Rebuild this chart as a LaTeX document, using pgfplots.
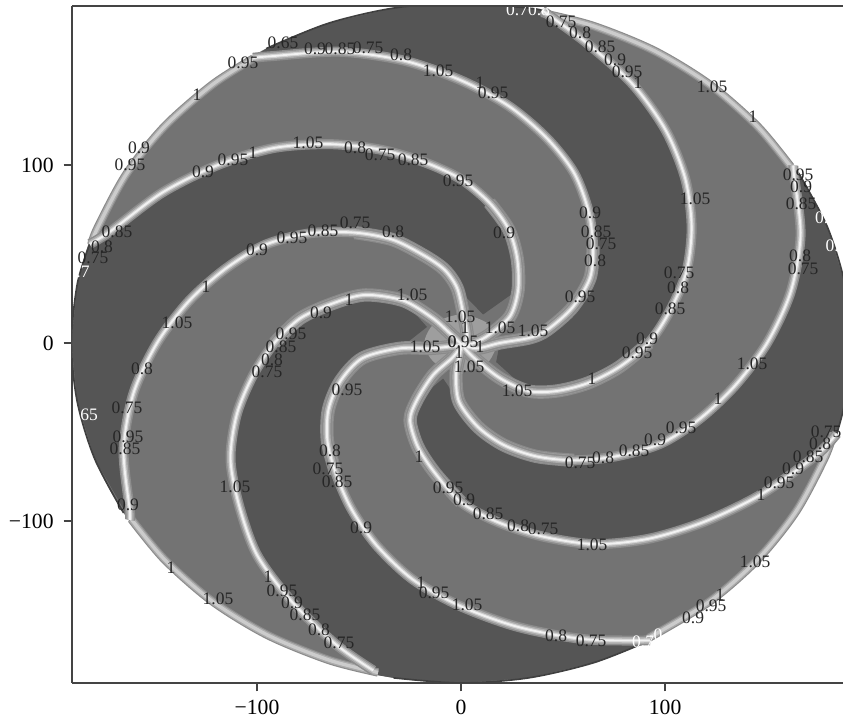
\documentclass[border=0pt]{standalone}
\usepackage{pgfplots}
\usepackage{pgfplotstable}
\usepackage{fontspec}
\setmainfont{Liberation Serif}
\pgfplotsset{compat=1.18}
\definecolor{darkarm}{HTML}{555555}
\definecolor{midarm}{HTML}{737373}
\definecolor{frame}{HTML}{444444}
\definecolor{labtxt}{HTML}{262626}
\tikzset{lab/.style={font=\fontsize{10.5}{12}\selectfont, text=labtxt, inner sep=0pt}}

\pgfplotstableread{
x y
0.5 -1.1
3 4
1 17
-2 31
-8 41
-17.8 48.9
-33.5 58
-52.1 62
-73.5 61.7
-95.7 55.3
-115.2 41.9
-133.4 23.5
-149 0
-160.6 -28.3
-165.4 -60.2
-162.4 -93.8
-162.3 -99.4
}\bandSmallA
\pgfplotstableread{
x y
0.5 -1.1
4 -1
13 4
24 15
28 30
27.5 47.6
23.3 63.9
13.9 78.8
0 92
-17.9 101.5
-39.5 108.6
-64.5 111.7
-91.9 109.5
-119.1 100
-146.4 84.5
-172 62.6
-182 55.6
}\bandA
\pgfplotstableread{
x y
0.5 -1.1
8 -3
19 0
34 3
42.4 7.5
54.5 19.8
63.2 36.5
64.7 54.3
62.4 74.3
55.3 95.7
41.9 115.2
23.5 133
0 147.5
-28 158.6
-59.5 163.6
-93 161.1
-102 160.2
}\bandB
\pgfplotstableread{
x y
0.5 -1.1
6 -8
19 -19.7
33 -27
46.8 -27
62 -22.6
77.3 -13.7
92 0
102.4 18.1
110.5 40.2
113 65.3
109.9 92.2
100.3 119.5
84 145.5
61.4 168.7
39.7 186.8
}\bandC
\pgfplotstableread{
x y
0.5 -1.1
-1 -8
-2.5 -18
-1 -33
8.4 -47.3
20.9 -57.3
36.8 -63.7
55.3 -65.9
75.8 -63.7
97.9 -56.5
117 -42.6
134.4 -23.8
150 0
161.5 28.5
166.4 60.5
163.2 94.3
162.9 99.7
}\bandD
\pgfplotstableread{
x y
0.5 -1.1
-4 -8
-13.7 -18
-21.6 -32
-25 -43.3
-21.2 -58.3
-12.9 -72.9
0 -89.5
17.7 -100.5
39.5 -108.6
65.3 -113
92.3 -109.9
119.5 -100.3
147.2 -85
173.9 -63.3
184.1 -51
}\bandF
\pgfplotstableread{
x y
0.5 -1.1
-14 -3
-30 -3
-48.3 -8.5
-59.2 -21.5
-65 -37.5
-65.5 -55
-61.4 -73.2
-53.8 -93.1
-41.4 -113.7
-23.5 -133
0 -148
28.2 -159.6
60.5 -166.4
92.6 -167.1
}\bandG
\pgfplotstableread{
x y
0.5 -1.1
-6 6
-14 14
-28.3 23.8
-46.8 27
-62 22.6
-78.8 13.9
-91.5 0
-101.9 -18
-109.9 -40
-113 -65.3
-108.8 -91.3
-100 -119.1
-83.5 -144.6
-61.6 -169.1
-43 -184
}\bandH
\pgfplotstableread{
x y
-181.2 55.3
-178.1 64.8
-164.1 94.8
-145.2 121.8
-121.8 145.2
-101.8 159.8
}\rimA
\pgfplotstableread{
x y
39.4 185.4
64.8 178.1
94.8 164.1
121.8 145.2
145.2 121.8
161.6 99
}\rimB
\pgfplotstableread{
x y
182.6 -50.6
178.1 -64.8
164.1 -94.8
145.2 -121.8
121.8 -145.2
91.9 -165.7
}\rimC
\pgfplotstableread{
x y
-40.7 -185.1
-64.8 -178.1
-94.8 -164.1
-121.8 -145.2
-145.2 -121.8
-161.6 -99
}\rimD

\newcommand\AllRims[1]{%
  \addplot[#1] table {\rimA};
  \addplot[#1] table {\rimB};
  \addplot[#1] table {\rimC};
  \addplot[#1] table {\rimD};
}
\newcommand\AllBands[1]{%
  \addplot[#1] table {\bandSmallA};
  \addplot[#1] table {\bandA};
  \addplot[#1] table {\bandB};
  \addplot[#1] table {\bandC};
  \addplot[#1] table {\bandD};
  \addplot[#1] table {\bandF};
  \addplot[#1] table {\bandG};
  \addplot[#1] table {\bandH};
}
\newcommand\InnerBands[1]{%
  \addplot[#1,skip coords between index={8}{40}] table {\bandSmallA};
  \addplot[#1,skip coords between index={8}{40}] table {\bandA};
  \addplot[#1,skip coords between index={8}{40}] table {\bandB};
  \addplot[#1,skip coords between index={8}{40}] table {\bandC};
  \addplot[#1,skip coords between index={8}{40}] table {\bandD};
  \addplot[#1,skip coords between index={8}{40}] table {\bandF};
  \addplot[#1,skip coords between index={8}{40}] table {\bandG};
  \addplot[#1,skip coords between index={8}{40}] table {\bandH};
}
\newcommand\Lb[3]{\node[lab] at (axis cs:{(#1-461)/2.04},{(343-#2)/1.78}) {#3};}
\newcommand\Lw[3]{\node[lab,text=white] at (axis cs:{(#1-461)/2.04},{(343-#2)/1.78}) {#3};}

\begin{document}
\begin{tikzpicture}
\path[use as bounding box] (-43.2pt,-25.2pt) rectangle (462.6pt,409.8pt);
\begin{axis}[
  scale only axis, width=462.6pt, height=406.2pt,
  xmin=-190.7, xmax=187.2, ymin=-191, ymax=189.3,
  axis x line*=bottom, axis y line*=left,
  x axis line style={-}, y axis line style={-},
  axis line style={frame, line width=0.9pt},
  tick style={frame, line width=0.8pt},
  tick align=outside, major tick length=5pt,
  xtick={-100,0,100}, ytick={-100,0,100},
  xticklabels={−100,0,100}, yticklabels={−100,0,100},
  tick label style={font=\fontsize{13}{15}\selectfont, text=black},
  xticklabel style={yshift=-2pt},
  yticklabel style={xshift=-2.5pt},
  no markers,
]
% disc
\addplot[fill=midarm, draw=none, smooth, tension=0.5] coordinates {
(191,0)(188.1,33.2)(179.5,65.3)(165.4,95.5)(146.3,122.8)(122.8,146.3)(95.5,165.4)(65.3,179.5)(33.2,188.1)(0,191)
(-33.2,188.1)(-65.3,179.5)(-95.5,165.4)(-122.8,146.3)(-146.3,122.8)(-165.4,95.5)(-179.5,65.3)(-188.1,33.2)(-191,0)
(-188.1,-33.2)(-179.5,-65.3)(-165.4,-95.5)(-146.3,-122.8)(-122.8,-146.3)(-95.5,-165.4)(-65.3,-179.5)(-33.2,-188.1)(0,-191)
(33.2,-188.1)(65.3,-179.5)(95.5,-165.4)(122.8,-146.3)(146.3,-122.8)(165.4,-95.5)(179.5,-65.3)(188.1,-33.2)(191,0)};
% centre
\addplot[fill=black!38, draw=none, smooth] coordinates {
(18,0)(13,11)(0,16)(-13,11)(-18,0)(-13,-11)(0,-16)(13,-11)(18,0)};
% dark arms
\addplot[fill=darkarm, draw=none] coordinates {
(10.8,16)(28,30)(27.5,47.6)(23.3,63.9)(13.9,78.8)(0,92)(-17.9,101.5)(-39.5,108.6)(-64.5,111.7)(-91.9,109.5)(-119.1,100)(-146.4,84.5)(-172,62.6)(-182,55.6)
(-188.1,33.2)(-191,0)(-188.1,-33.2)(-179.5,-65.3)(-162.3,-99.4)
(-165.4,-60.2)(-160.6,-28.3)(-149,0)(-133.4,23.5)(-115.2,41.9)(-95.7,55.3)(-73.5,61.7)(-52.1,62)(-33.5,58)(-17.8,48.9)(-8,41)(-2,31)};
\addplot[fill=darkarm, draw=none] coordinates {
(17.2,-10.7)(33,-27)(46.8,-27)(62,-22.6)(77.3,-13.7)(92,0)(102.4,18.1)(110.5,40.2)(113,65.3)(109.9,92.2)(100.3,119.5)(84,145.5)(61.4,168.7)(39.7,186.8)
(33.2,188.1)(0,191)(-33.2,188.1)(-65.3,179.5)(-95.5,165.4)(-102,160.2)
(-93,161.1)(-59.5,163.6)(-28,158.6)(0,147.5)(23.5,133)(41.9,115.2)(55.3,95.7)(62.4,74.3)(64.7,54.3)(63.2,36.5)(54.5,19.8)(42.4,7.5)(34,3)(19,0)};
\addplot[fill=darkarm, draw=none] coordinates {
(-8.8,-20)(-1,-33)(8.4,-47.3)(20.9,-57.3)(36.8,-63.7)(55.3,-65.9)(75.8,-63.7)(97.9,-56.5)(117,-42.6)(134.4,-23.8)(150,0)(161.5,28.5)(166.4,60.5)(163.2,94.3)(162.9,99.7)
(165.4,95.5)(179.5,65.3)(188.1,33.2)(191,0)(188.1,-33.2)(184.1,-51)
(173.9,-63.3)(147.2,-85)(119.5,-100.3)(92.3,-109.9)(65.3,-113)(39.5,-108.6)(17.7,-100.5)(0,-89.5)(-12.9,-72.9)(-21.2,-58.3)(-25,-43.3)(-21.6,-32)};
\addplot[fill=darkarm, draw=none] coordinates {
(-16.7,9)(-28.3,23.8)(-46.8,27)(-62,22.6)(-78.8,13.9)(-91.5,0)(-101.9,-18)(-109.9,-40)(-113,-65.3)(-108.8,-91.3)(-100,-119.1)(-83.5,-144.6)(-61.6,-169.1)(-43,-184)(-41.1,-186.6)
(-33.2,-188.1)(0,-191)(33.2,-188.1)(65.3,-179.5)(92.6,-167.1)
(60.5,-166.4)(28.2,-159.6)(0,-148)(-23.5,-133)(-41.4,-113.7)(-53.8,-93.1)(-61.4,-73.2)(-65.5,-55)(-65,-37.5)(-59.2,-21.5)(-48.3,-8.5)(-30,-3)};
% dark rim
\addplot[draw=black!75, line width=1pt, smooth] coordinates {(-182,55.6)(-188.1,33.2)(-191,0)(-188.1,-33.2)(-179.5,-65.3)(-165.4,-95.5)};
\addplot[draw=black!75, line width=1pt, smooth] coordinates {(39.7,186.8)(33.2,188.1)(0,191)(-33.2,188.1)(-65.3,179.5)(-95.5,165.4)};
\addplot[draw=black!75, line width=1pt, smooth] coordinates {(165.4,95.5)(179.5,65.3)(188.1,33.2)(191,0)(188.1,-33.2)(184.1,-51)};
\addplot[draw=black!75, line width=1pt, smooth] coordinates {(-33.2,-188.1)(0,-191)(33.2,-188.1)(65.3,-179.5)(92.6,-167.1)};
% rims
\AllRims{draw=black!45, line width=5pt, smooth, line join=round}
\AllRims{draw=black!33, line width=3.6pt, smooth, line join=round}
\AllRims{draw=black!20, line width=2pt, smooth, line join=round}
% bands
\InnerBands{draw=black!46, line width=8pt, smooth, line join=round}
\InnerBands{draw=black!38, line width=6.5pt, smooth, line join=round}
\AllBands{draw=black!45, line width=6pt, smooth, line join=round}
\AllBands{draw=black!33, line width=4.2pt, smooth, line join=round}
\AllBands{draw=black!18, line width=2.4pt, smooth, line join=round}
\AllBands{draw=black!5, line width=1.1pt, smooth, line join=round}
% contour labels
\Lb{283}{43}{0.65}\Lb{243}{63}{0.95}\Lb{197}{95}{1}\Lb{139}{148}{0.9}\Lb{130}{165}{0.95}
\Lb{203}{172}{0.9}\Lb{233}{160}{0.95}\Lb{253}{153}{1}\Lb{308}{143}{1.05}\Lb{355}{148}{0.8}
\Lb{380}{155}{0.75}\Lb{413}{160}{0.85}\Lb{458}{181}{0.95}\Lb{315}{49}{0.9}\Lb{340}{49}{0.85}
\Lb{368}{48}{0.75}\Lb{401}{55}{0.8}\Lb{438}{71}{1.05}\Lb{117}{232}{0.85}\Lb{102}{247}{0.8}
\Lb{93}{258}{0.75}\Lw{83}{272}{.7}\Lb{257}{250}{0.9}\Lb{292}{238}{0.95}\Lb{323}{231}{0.85}
\Lb{355}{223}{0.75}\Lb{393}{232}{0.8}\Lb{206}{287}{1}\Lb{177}{323}{1.05}\Lb{321}{313}{0.9}
\Lb{349}{300}{1}\Lb{412}{295}{1.05}\Lb{460}{317}{1.05}\Lb{500}{328}{1.05}\Lb{533}{331}{1.05}
\Lb{425}{347}{1.05}\Lb{291}{334}{0.95}\Lb{281}{347}{0.85}\Lb{272}{360}{0.8}\Lb{267}{372}{0.75}
\Lb{142}{369}{0.8}\Lb{127}{408}{0.75}\Lb{128}{437}{0.95}\Lb{125}{449}{0.85}\Lw{89}{415}{65}
\Lb{128}{505}{0.9}\Lb{171}{568}{1}\Lb{218}{599}{1.05}\Lb{235}{487}{1.05}\Lb{347}{390}{0.95}
\Lb{330}{451}{0.8}\Lb{328}{469}{0.75}\Lb{337}{482}{0.85}\Lb{361}{528}{0.9}\Lb{419}{457}{1}
\Lb{268}{577}{1}\Lb{282}{591}{0.95}\Lb{292}{603}{0.9}\Lb{305}{615}{0.85}\Lb{319}{630}{0.8}
\Lb{339}{643}{0.75}\Lb{421}{583}{1}\Lb{434}{593}{0.95}\Lb{467}{605}{1.05}\Lb{448}{488}{0.95}
\Lb{464}{500}{0.9}\Lb{488}{514}{0.85}\Lb{518}{526}{0.8}\Lb{543}{529}{0.75}\Lb{592}{545}{1.05}
\Lb{556}{636}{0.8}\Lb{591}{641}{0.75}\Lw{643}{642}{0.7}\Lw{660}{635}{0.}\Lb{693}{618}{0.9}
\Lb{711}{606}{0.95}\Lb{720}{595}{1}\Lb{755}{562}{1.05}\Lb{761}{495}{1}\Lb{779}{483}{0.95}
\Lb{793}{469}{0.9}\Lb{808}{457}{0.85}\Lb{820}{444}{0.8}\Lb{826}{432}{0.75}\Lb{580}{463}{0.75}
\Lb{603}{458}{0.8}\Lb{634}{451}{0.85}\Lb{655}{440}{0.9}\Lb{681}{428}{0.95}\Lb{718}{399}{1}
\Lb{752}{364}{1.05}\Lb{517}{391}{1.05}\Lb{592}{379}{1}\Lb{637}{353}{0.95}\Lb{647}{339}{0.9}
\Lb{670}{309}{0.85}\Lb{678}{288}{0.8}\Lb{679}{273}{0.75}\Lb{695}{199}{1.05}\Lb{469}{367}{1.05}
\Lb{459}{353}{1}\Lb{463}{342}{0.95}\Lb{480}{347}{1}\Lb{465}{328}{1}\Lb{452}{342}{0}
\Lb{504}{233}{0.9}\Lb{590}{213}{0.9}\Lb{596}{232}{0.85}\Lb{601}{244}{0.75}\Lb{595}{261}{0.8}
\Lb{580}{297}{0.95}\Lb{493}{93}{0.95}\Lb{480}{83}{1}\Lb{561}{22}{0.75}\Lb{580}{33}{0.8}
\Lb{600}{47}{0.85}\Lb{615}{60}{0.9}\Lb{627}{72}{0.95}\Lb{638}{83}{1}\Lb{712}{87}{1.05}
\Lb{753}{117}{1}\Lw{528}{10}{0.70.8}\Lb{798}{175}{0.95}\Lb{801}{187}{0.9}\Lb{801}{204}{0.85}
\Lw{826}{218}{0.9}\Lb{800}{256}{0.8}\Lb{803}{269}{0.75}\Lw{832}{246}{0.}
\draw[frame, line width=0.9pt] (rel axis cs:0,1) -- (rel axis cs:1,1);
\end{axis}
\end{tikzpicture}
\end{document}
